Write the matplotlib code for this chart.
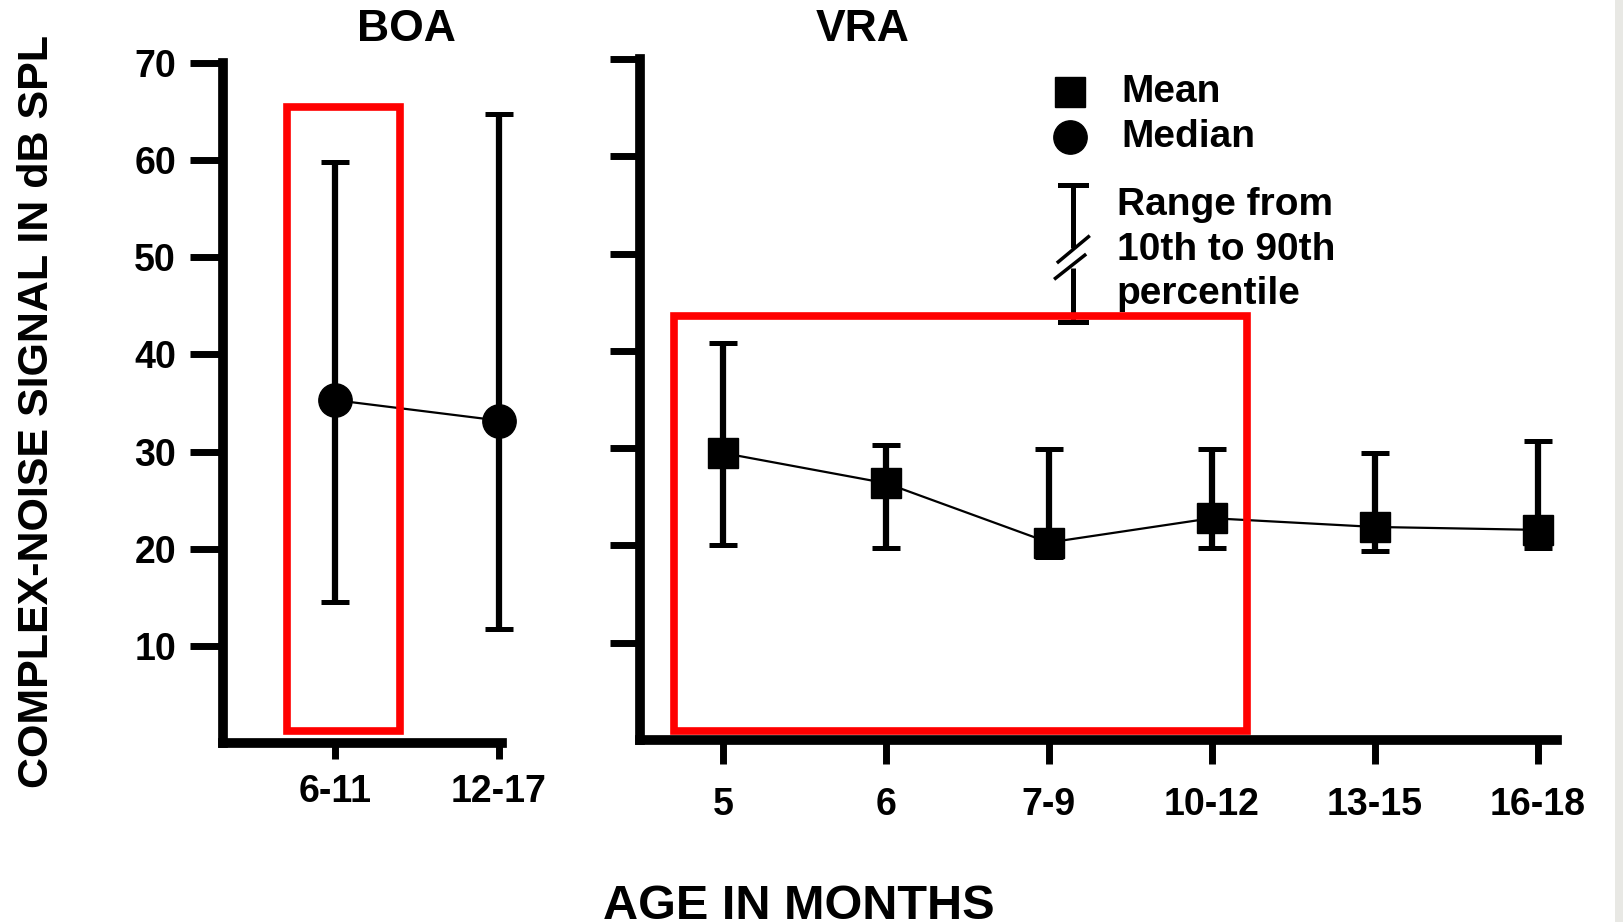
import matplotlib
matplotlib.use('Agg')
import matplotlib.pyplot as plt
from matplotlib.patches import Rectangle

plt.rcParams['font.family'] = ['Liberation Sans', 'DejaVu Sans']
plt.rcParams['font.weight'] = 'bold'

# BOA: medians with 10th-90th percentile range
boa_ages = ['6-11', '12-17']
boa_median = [35.3, 33.2]
boa_p10 = [14.5, 11.7]
boa_p90 = [59.8, 64.8]

# VRA: means with 10th-90th percentile range
vra_ages = ['5', '6', '7-9', '10-12', '13-15', '16-18']
vra_mean = [29.5, 26.4, 20.3, 22.8, 21.9, 21.6]
vra_p10 = [20.0, 19.7, 18.8, 19.7, 19.4, 19.7]
vra_p90 = [40.8, 30.3, 29.9, 29.9, 29.5, 30.7]

yticks = [10, 20, 30, 40, 50, 60, 70]

fig = plt.figure(figsize=(16.24, 9.22), dpi=100)
ax1 = fig.add_axes([0.1373, 0.1941, 0.1718, 0.7375])
ax2 = fig.add_axes([0.3941, 0.1974, 0.5647, 0.7386])


def style_axis(ax, xtick_len, xpad, ytick_len, ylabels):
    for s in ['top', 'right']:
        ax.spines[s].set_visible(False)
    for s in ['left', 'bottom']:
        ax.spines[s].set_linewidth(7)
        ax.spines[s].set_capstyle('projecting')
    ax.set_ylim(0, 70)
    ax.set_yticks(yticks)
    ax.tick_params(axis='y', length=ytick_len, width=5, pad=10, labelsize=27)
    ax.tick_params(axis='x', length=xtick_len, width=5, pad=xpad, labelsize=27)
    if not ylabels:
        ax.set_yticklabels([])


def unclip(container):
    for child in container.get_children():
        child.set_clip_on(False)


# --- BOA panel ---
bx = list(range(len(boa_ages)))
ax1.plot(bx, boa_median, '-', color='k', lw=1.6, zorder=2, clip_on=False)
eb1 = ax1.errorbar(bx, boa_median,
                   yerr=[[m - lo for m, lo in zip(boa_median, boa_p10)],
                         [hi - m for m, hi in zip(boa_median, boa_p90)]],
                   fmt='o', color='k', ms=24, elinewidth=4.5, capsize=10,
                   capthick=3.6, zorder=3)
unclip(eb1)
ax1.set_xticks(bx)
ax1.set_xticklabels(boa_ages)
ax1.set_xlim(-0.683, 1.018)
style_axis(ax1, 11.5, 11, 23.8, True)
ax1.add_patch(Rectangle((0.229, 0.018), 0.405, 0.917, transform=ax1.transAxes,
                        fill=False, edgecolor='#ff0000', lw=5.5, clip_on=False,
                        zorder=5))

# --- VRA panel ---
vx = list(range(len(vra_ages)))
ax2.plot(vx, vra_mean, '-', color='k', lw=1.6, zorder=2, clip_on=False)
eb2 = ax2.errorbar(vx, vra_mean,
                   yerr=[[m - lo for m, lo in zip(vra_mean, vra_p10)],
                         [hi - m for m, hi in zip(vra_mean, vra_p90)]],
                   fmt='s', color='k', ms=22, elinewidth=4.5, capsize=10,
                   capthick=3.6, zorder=3)
unclip(eb2)
ax2.set_xticks(vx)
ax2.set_xticklabels(vra_ages, fontsize=28)
ax2.set_xlim(-0.51, 5.12)
style_axis(ax2, 17, 16.5, 21.6, False)
ax2.add_patch(Rectangle((0.037, 0.013), 0.625, 0.610, transform=ax2.transAxes,
                        fill=False, edgecolor='#ff0000', lw=5.5, clip_on=False,
                        zorder=5))

# legend drawn by hand
t = ax2.transAxes
ax2.plot([0.469], [0.951], 's', color='k', ms=22, transform=t, clip_on=False)
ax2.plot([0.469], [0.885], 'o', color='k', ms=24, transform=t, clip_on=False)
ax2.text(0.525, 0.951, 'Mean', transform=t, fontsize=28, va='center')
ax2.text(0.525, 0.885, 'Median', transform=t, fontsize=28, va='center')
ax2.plot([0.472, 0.472], [0.815, 0.722], color='k', lw=3.6, transform=t,
         solid_capstyle='butt')
ax2.plot([0.472, 0.472], [0.693, 0.614], color='k', lw=3.6, transform=t,
         solid_capstyle='butt')
ax2.plot([0.458, 0.486], [0.815, 0.815], color='k', lw=3.6, transform=t)
ax2.plot([0.458, 0.486], [0.614, 0.614], color='k', lw=3.6, transform=t)
ax2.plot([0.456, 0.489], [0.702, 0.739], color='k', lw=2.5, transform=t)
ax2.plot([0.453, 0.485], [0.678, 0.712], color='k', lw=2.5, transform=t)
for txt, yy in zip(['Range from', '10th to 90th', 'percentile'],
                   [0.786, 0.720, 0.655]):
    ax2.text(0.520, yy, txt, transform=t, fontsize=28, va='center')

# titles and axis labels
fig.text(0.250, 0.9685, 'BOA', ha='center', va='center', fontsize=32)
fig.text(0.531, 0.9685, 'VRA', ha='center', va='center', fontsize=32)
fig.text(0.0225, 0.554, 'COMPLEX-NOISE SIGNAL IN dB SPL', rotation=90,
         ha='center', va='center', fontsize=31)
fig.text(0.492, 1 - 884 / 922, 'AGE IN MONTHS', ha='center', va='top',
         fontsize=35)

# light border at the right edge
fig.add_artist(Rectangle((0.9945, 0), 0.0055, 1, transform=fig.transFigure,
                         color='#e8e8e4', lw=0))

fig.savefig('out.png', dpi=100)
